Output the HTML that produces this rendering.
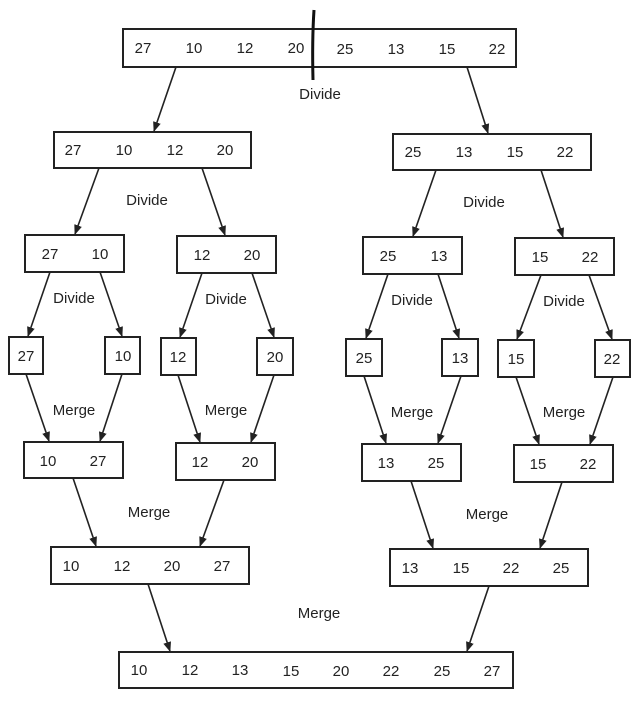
<!DOCTYPE html>
<html><head><meta charset="utf-8"><style>
html,body{margin:0;padding:0;background:#fff;}
svg{display:block;}
text{font-family:"Liberation Sans",sans-serif;font-size:15px;fill:#222;text-anchor:middle;}
rect{fill:#fff;stroke:#222;stroke-width:2;}
line{stroke:#222;stroke-width:1.6;}
</style></head><body>
<svg width="633" height="715" viewBox="0 0 633 715">
<defs><marker id="a" markerWidth="10" markerHeight="10" refX="9" refY="5" orient="auto" markerUnits="userSpaceOnUse"><path d="M0,1 L10,5 L0,9 Z" fill="#222"/></marker></defs>
<!-- boxes -->
<rect x="123" y="29" width="393" height="38"/>
<rect x="54" y="132" width="197" height="36"/>
<rect x="393" y="134" width="198" height="36"/>
<rect x="25" y="235" width="99" height="37"/>
<rect x="177" y="236" width="99" height="37"/>
<rect x="363" y="237" width="99" height="37"/>
<rect x="515" y="238" width="99" height="37"/>
<rect x="9" y="337" width="34" height="37"/>
<rect x="105" y="337" width="35" height="37"/>
<rect x="161" y="338" width="35" height="37"/>
<rect x="257" y="338" width="36" height="37"/>
<rect x="346" y="339" width="36" height="37"/>
<rect x="442" y="339" width="36" height="37"/>
<rect x="498" y="340" width="36" height="37"/>
<rect x="595" y="340" width="35" height="37"/>
<rect x="24" y="442" width="99" height="36"/>
<rect x="176" y="443" width="99" height="37"/>
<rect x="362" y="444" width="99" height="37"/>
<rect x="514" y="445" width="99" height="37"/>
<rect x="51" y="547" width="198" height="37"/>
<rect x="390" y="549" width="198" height="37"/>
<rect x="119" y="652" width="394" height="36"/>
<path d="M314,10 Q312,40 313,80" stroke="#111" stroke-width="3" fill="none"/>
<!-- arrows -->
<g marker-end="url(#a)">
<line x1="176" y1="67" x2="154" y2="131"/><line x1="467" y1="67" x2="488" y2="133"/>
<line x1="99" y1="168" x2="75" y2="234"/><line x1="202" y1="168" x2="225" y2="235"/>
<line x1="436" y1="170" x2="413" y2="236"/><line x1="541" y1="170" x2="563" y2="237"/>
<line x1="50" y1="272" x2="28" y2="336"/><line x1="100" y1="272" x2="122" y2="336"/>
<line x1="202" y1="273" x2="180" y2="337"/><line x1="252" y1="273" x2="274" y2="337"/>
<line x1="388" y1="274" x2="366" y2="338"/><line x1="438" y1="274" x2="459" y2="338"/>
<line x1="541" y1="275" x2="517" y2="339"/><line x1="589" y1="275" x2="612" y2="339"/>
<line x1="26" y1="374" x2="49" y2="441"/><line x1="122" y1="374" x2="100" y2="441"/>
<line x1="178" y1="375" x2="200" y2="442"/><line x1="274" y1="375" x2="251" y2="442"/>
<line x1="364" y1="376" x2="386" y2="443"/><line x1="461" y1="376" x2="438" y2="443"/>
<line x1="516" y1="377" x2="539" y2="444"/><line x1="613" y1="377" x2="590" y2="444"/>
<line x1="73" y1="478" x2="96" y2="546"/><line x1="224" y1="480" x2="200" y2="546"/>
<line x1="411" y1="481" x2="433" y2="548"/><line x1="562" y1="482" x2="540" y2="548"/>
<line x1="148" y1="584" x2="170" y2="651"/><line x1="489" y1="586" x2="467" y2="651"/>
</g>
<!-- numbers -->
<g>
<text x="143" y="53">27</text><text x="194" y="53">10</text><text x="245" y="53">12</text><text x="296" y="53">20</text>
<text x="345" y="54">25</text><text x="396" y="54">13</text><text x="447" y="54">15</text><text x="497" y="54">22</text>
<text x="73" y="155">27</text><text x="124" y="155">10</text><text x="175" y="155">12</text><text x="225" y="155">20</text>
<text x="413" y="157">25</text><text x="464" y="157">13</text><text x="515" y="157">15</text><text x="565" y="157">22</text>
<text x="50" y="259">27</text><text x="100" y="259">10</text><text x="202" y="260">12</text><text x="252" y="260">20</text>
<text x="388" y="261">25</text><text x="439" y="261">13</text><text x="540" y="262">15</text><text x="590" y="262">22</text>
<text x="26" y="361">27</text><text x="123" y="361">10</text><text x="178" y="362">12</text><text x="275" y="362">20</text>
<text x="364" y="363">25</text><text x="460" y="363">13</text><text x="516" y="364">15</text><text x="612" y="364">22</text>
<text x="48" y="466">10</text><text x="98" y="466">27</text><text x="200" y="467">12</text><text x="250" y="467">20</text>
<text x="386" y="468">13</text><text x="436" y="468">25</text><text x="538" y="469">15</text><text x="588" y="469">22</text>
<text x="71" y="571">10</text><text x="122" y="571">12</text><text x="172" y="571">20</text><text x="222" y="571">27</text>
<text x="410" y="573">13</text><text x="461" y="573">15</text><text x="511" y="573">22</text><text x="561" y="573">25</text>
<text x="139" y="675">10</text><text x="190" y="675">12</text><text x="240" y="675">13</text><text x="291" y="676">15</text>
<text x="341" y="676">20</text><text x="391" y="676">22</text><text x="442" y="676">25</text><text x="492" y="676">27</text>
</g>
<!-- labels -->
<g>
<text x="320" y="99">Divide</text>
<text x="147" y="205">Divide</text><text x="484" y="207">Divide</text>
<text x="74" y="303">Divide</text><text x="226" y="304">Divide</text><text x="412" y="305">Divide</text><text x="564" y="306">Divide</text>
<text x="74" y="415">Merge</text><text x="226" y="415">Merge</text><text x="412" y="417">Merge</text><text x="564" y="417">Merge</text>
<text x="149" y="517">Merge</text><text x="487" y="519">Merge</text>
<text x="319" y="618">Merge</text>
</g>
</svg>
</body></html>
